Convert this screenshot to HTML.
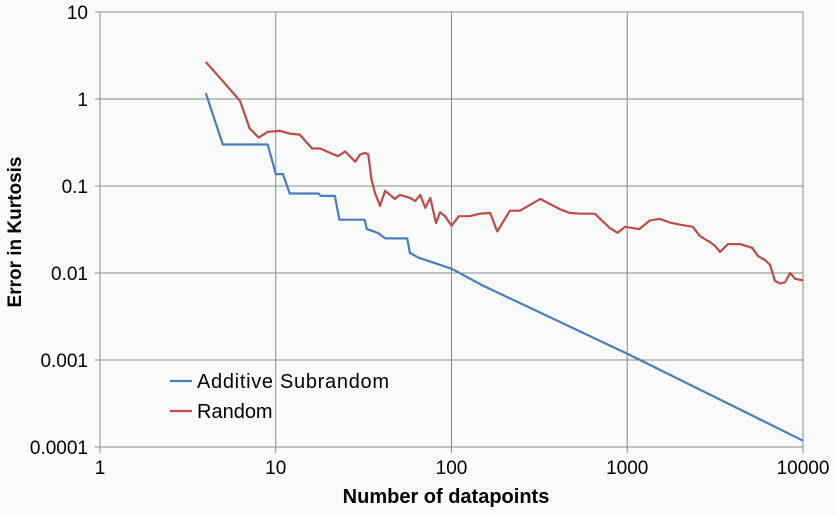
<!DOCTYPE html>
<html><head><meta charset="utf-8"><style>
body{margin:0;background:#f8fbfa;}
svg{display:block;font-family:"Liberation Sans",sans-serif;}
</style></head><body>
<svg id="chart" width="836" height="515">
<rect width="836" height="515" fill="#f8fbfa"/>
<g id="grid"></g>
<g id="ticks"></g>
<g id="series"></g>
<text x="446" y="503" text-anchor="middle" font-size="20" font-weight="bold">Number of datapoints</text>
<text transform="translate(21,232) rotate(-90)" text-anchor="middle" font-size="19" font-weight="bold">Error in Kurtosis</text>
<g>
<g><line x1="170" y1="381" x2="192" y2="381" stroke="#4a7ebb" stroke-width="2.2"/><text x="197" y="388" font-size="20" textLength="192">Additive Subrandom</text></g>
<g><line x1="170" y1="411" x2="192" y2="411" stroke="#be4b48" stroke-width="2.2"/><text x="197" y="418" font-size="20">Random</text></g>
</g>
</svg>
<script>
const xTicks=[1,10,100,1000,10000];
const xTickLabels=["1","10","100","1000","10000"];
const yTicks=[10,1,0.1,0.01,0.001,0.0001];
const yTickLabels=["10","1","0.1","0.01","0.001","0.0001"];
const blueN=[4,5,9,10,11,12,17.5,18,21.7,23,32,33,38,42,56,58,65,100,150,1000,10000];
const blueV=[1.17,0.30,0.30,0.137,0.137,0.082,0.082,0.077,0.077,0.041,0.041,0.032,0.029,0.025,0.025,0.017,0.015,0.0112,0.0072,0.00118,0.000118];
const redN=[4,5,6.26,7.1,8,9,10.6,12,13.7,14.7,16.1,17.9,20.4,22.6,24.8,26.4,28.3,30.2,32.3,33.6,35,36.7,39.2,41.9,47.6,50.9,58.2,62.1,66.4,70.9,75.7,81.6,86,92,100,110,127,145,166,182,215,245,320,364,415,473,540,654,795,880,972,1170,1340,1530,1750,1980,2360,2594,2960,3160,3370,3740,4380,5130,5550,6080,6490,6930,7400,7900,8440,9000,10000];
const redV=[2.66,1.6,0.95,0.46,0.36,0.42,0.43,0.40,0.39,0.33,0.27,0.27,0.24,0.22,0.25,0.22,0.19,0.23,0.24,0.23,0.12,0.083,0.059,0.088,0.071,0.079,0.073,0.067,0.079,0.056,0.073,0.0375,0.05,0.045,0.035,0.045,0.045,0.048,0.049,0.030,0.052,0.052,0.071,0.062,0.054,0.049,0.048,0.048,0.033,0.029,0.034,0.032,0.040,0.042,0.038,0.036,0.034,0.0265,0.0226,0.0205,0.0175,0.0215,0.0215,0.0195,0.0156,0.0141,0.0124,0.0081,0.0076,0.0078,0.0100,0.0086,0.0082];
const NS="http://www.w3.org/2000/svg";
const X0=100,X1=803,Y0=12,Y1=447;
function xs(n){return X0+Math.log10(n)/4*(X1-X0);}
function ys(v){return Y0+(1-Math.log10(v))/5*(Y1-Y0);}
function mk(tag,attrs,parent){const e=document.createElementNS(NS,tag);for(const k in attrs)e.setAttribute(k,attrs[k]);parent.appendChild(e);return e;}
const grid=document.getElementById('grid'),ticks=document.getElementById('ticks'),series=document.getElementById('series');
xTicks.forEach((t,i)=>{
 const l=mk('line',{x1:xs(t),x2:xs(t),y1:Y0,y2:Y1+6,stroke:'#8a8a8a','stroke-width':1},grid);
 
 
 const tx=mk('text',{x:xs(t),y:474,'text-anchor':'middle','font-size':19},ticks);
 tx.textContent=xTickLabels[i];
 
 
});
yTicks.forEach((t,i)=>{
 const l=mk('line',{x1:X0-5,x2:X1,y1:ys(t),y2:ys(t),stroke:'#8a8a8a','stroke-width':1},grid);
 
 
 const tx=mk('text',{x:88,y:ys(t)+7,'text-anchor':'end','font-size':19},ticks);
 tx.textContent=yTickLabels[i];
 
 
});
function path(N,V){return N.map((n,i)=>(i?'L':'M')+xs(n).toFixed(1)+','+ys(V[i]).toFixed(1)).join('');}
const r=mk('path',{d:path(redN,redV),fill:'none',stroke:'#be4b48','stroke-width':2.2,'stroke-linejoin':'round'},series);


const b=mk('path',{d:path(blueN,blueV),fill:'none',stroke:'#4a7ebb','stroke-width':2.2,'stroke-linejoin':'round'},series);


</script>
</body></html>
